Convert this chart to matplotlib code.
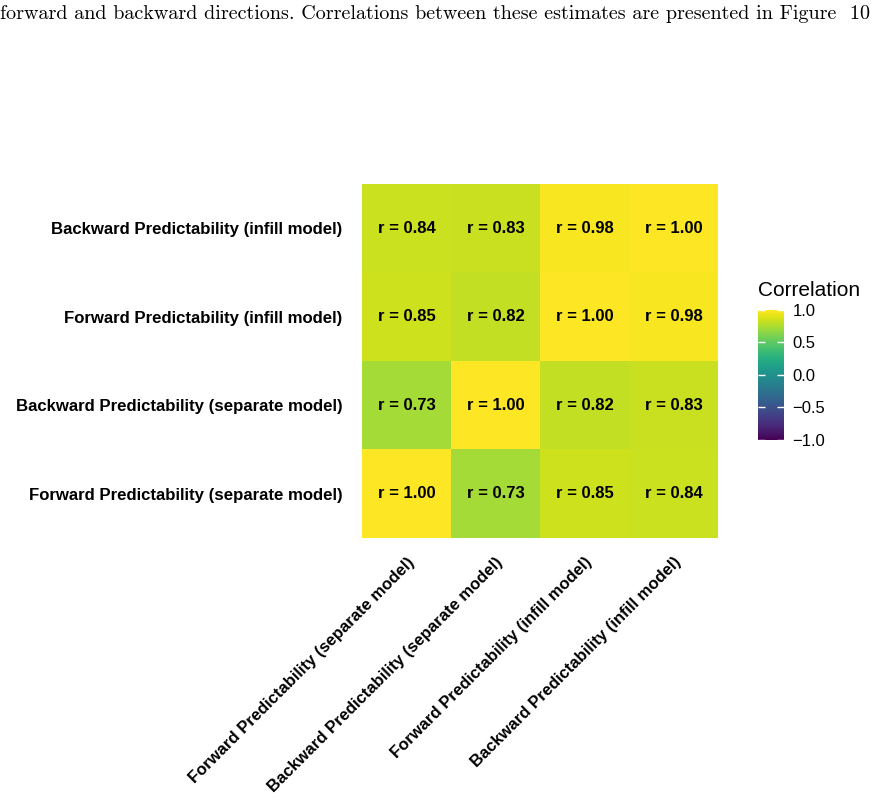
import numpy as np
import matplotlib
matplotlib.use("Agg")
import matplotlib.pyplot as plt

# variables, in column order (left to right); rows run bottom to top in the same order
labels = [
    "Forward Predictability (separate model)",
    "Backward Predictability (separate model)",
    "Forward Predictability (infill model)",
    "Backward Predictability (infill model)",
]
corr = np.array([
    [1.00, 0.73, 0.85, 0.84],
    [0.73, 1.00, 0.82, 0.83],
    [0.85, 0.82, 1.00, 0.98],
    [0.84, 0.83, 0.98, 1.00],
])
cbar_ticks = [-1.0, -0.5, 0.0, 0.5, 1.0]
caption = ("forward and backward directions. Correlations between these "
           "estimates are presented in Figure  10")

plt.rcParams["font.family"] = ["Liberation Sans", "DejaVu Sans"]

fig = plt.figure(figsize=(8.74, 8.02), dpi=100)
ax = fig.add_axes([0.4142, 0.3292, 0.4073, 0.4414])

n = len(labels)
mesh = ax.pcolormesh(np.arange(n + 1), np.arange(n + 1), corr,
                     cmap="viridis", vmin=-1, vmax=1)
for i in range(n):
    for j in range(n):
        ax.text(j + 0.5, i + 0.5, "r = {:.2f}".format(corr[i, j]),
                ha="center", va="center", fontsize=12, fontweight="bold")

ax.set_xlim(0, n)
ax.set_ylim(0, n)
ax.set_xticks(np.arange(n) + 0.5)
ax.set_yticks(np.arange(n) + 0.5)
ax.set_xticklabels(labels, rotation=45, ha="right", rotation_mode="anchor",
                   fontsize=12, fontweight="bold")
ax.set_yticklabels(labels, fontsize=12.1, fontweight="bold")
ax.tick_params(axis="y", length=0, pad=14)
ax.tick_params(axis="x", length=0, pad=12)
for s in ax.spines.values():
    s.set_visible(False)

# colour bar
cax = fig.add_axes([0.8673, 0.4514, 0.0297, 0.1621])
cb = fig.colorbar(mesh, cax=cax, ticks=cbar_ticks)
cb.outline.set_visible(False)
cb.ax.set_yticklabels(["\u22121.0", "\u22120.5", "0.0", "0.5", "1.0"])
cb.ax.tick_params(length=5, width=1, color="white", direction="in",
                  left=True, right=True, labelsize=12, pad=6)
cax.set_title("Correlation", fontsize=15, loc="left", pad=10)

fig.text(0.0, 0.982, caption, fontfamily="cmr10", fontsize=14.5,
         ha="left", va="center")

fig.savefig("out.png", dpi=100)
